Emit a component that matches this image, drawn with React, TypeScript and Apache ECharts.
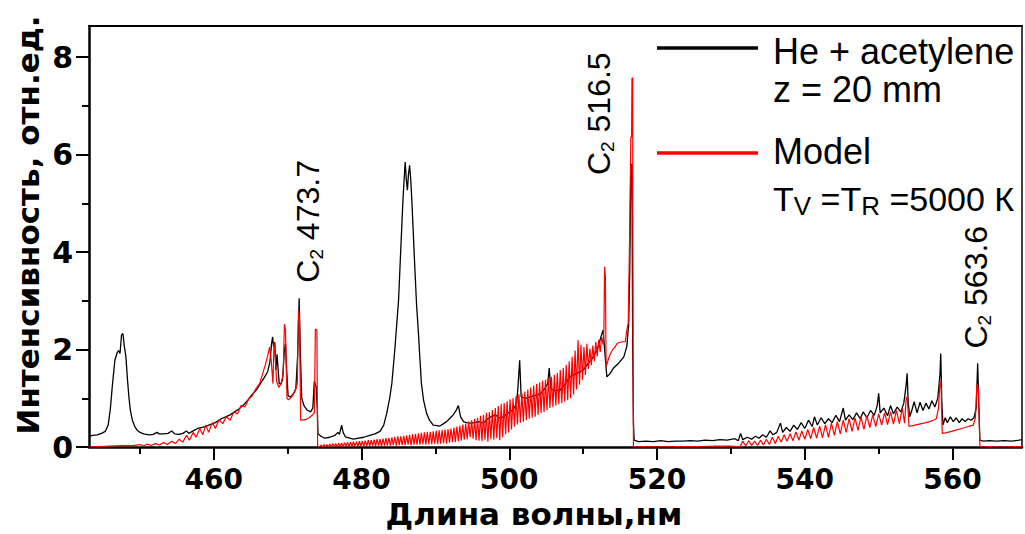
import React, { useEffect, useRef } from "react";
import * as echarts from "echarts";

// ---- axes ----
const X_MIN = 443.1;
const X_MAX = 569.4;
const X_MAJOR = [460, 480, 500, 520, 540, 560];
const X_MINOR = [450, 470, 490, 510, 530, 550];
const Y_MIN = 0;
const Y_MAX = 8.64;
const Y_MAJOR = [0, 2, 4, 6, 8];
const Y_MINOR = [1, 3, 5, 7];

const X_TITLE = "Длина волны,нм";
const Y_TITLE = "Интенсивность, отн.ед.";

// ---- measured spectrum: He + acetylene, z = 20 mm ----
const measured: [number, number][] = [
  [443.1, 0.22], [443.6, 0.24], [444.2, 0.25], [444.8, 0.28], [445.3, 0.32], [445.7, 0.45],
  [446.0, 0.8], [446.25, 1.24], [446.6, 1.78], [446.9, 1.93], [447.1, 1.98], [447.3, 1.92],
  [447.5, 2.3], [447.7, 2.33], [447.85, 2.1], [448.1, 1.85], [448.3, 1.4], [448.5, 1.03],
  [448.7, 0.75], [448.97, 0.55], [449.3, 0.42], [449.6, 0.35], [450.0, 0.3], [450.5, 0.27],
  [451.2, 0.25], [451.8, 0.26], [452.3, 0.3], [452.6, 0.27], [453.2, 0.27], [453.8, 0.28],
  [454.3, 0.33], [454.7, 0.27], [455.3, 0.26], [455.8, 0.28], [456.3, 0.33], [456.6, 0.28],
  [457.2, 0.33], [457.8, 0.38], [458.3, 0.4], [458.8, 0.42], [459.5, 0.46], [460.2, 0.5],
  [461.0, 0.58], [461.6, 0.62], [462.2, 0.66], [462.8, 0.72], [463.4, 0.78], [464.0, 0.86],
  [464.6, 0.96], [465.2, 1.08], [465.8, 1.18], [466.3, 1.3], [466.8, 1.42], [467.3, 1.55],
  [467.6, 1.75], [467.8, 2.1], [467.95, 2.26], [468.1, 2.05], [468.25, 2.15], [468.4, 1.58],
  [468.55, 1.9], [468.7, 1.6], [468.85, 1.3], [469.1, 1.3], [469.3, 1.38], [469.55, 2.0],
  [469.7, 2.12], [469.85, 1.6], [470.05, 1.05], [470.4, 1.03], [470.8, 1.1], [471.1, 1.2],
  [471.35, 1.9], [471.55, 3.05], [471.7, 2.0], [471.9, 1.0], [472.2, 0.85], [472.6, 0.76],
  [473.1, 0.72], [473.4, 0.8], [473.6, 1.35], [473.85, 1.23], [474.0, 0.8], [474.1, 0.27],
  [474.5, 0.22], [475.0, 0.18], [475.7, 0.2], [476.4, 0.24], [476.8, 0.3], [477.0, 0.26],
  [477.3, 0.45], [477.5, 0.3], [477.8, 0.21], [478.4, 0.18], [478.9, 0.16], [479.6, 0.18],
  [480.3, 0.2], [481.1, 0.24], [481.8, 0.27], [482.5, 0.32], [483.0, 0.45], [483.4, 0.69],
  [483.8, 1.0], [484.1, 1.31], [484.5, 2.0], [485.0, 3.0], [485.3, 4.04], [485.6, 5.07],
  [485.9, 5.85], [486.05, 5.5], [486.2, 5.27], [486.35, 5.6], [486.5, 5.78], [486.65, 5.5],
  [486.8, 5.07], [487.0, 4.4], [487.2, 3.7], [487.45, 2.9], [487.7, 2.33], [487.9, 1.8],
  [488.1, 1.3], [488.4, 0.95], [488.8, 0.69], [489.2, 0.55], [489.7, 0.45], [490.2, 0.44],
  [490.6, 0.43], [491.0, 0.47], [491.5, 0.52], [491.9, 0.58], [492.4, 0.66], [492.8, 0.75],
  [493.1, 0.85], [493.4, 0.62], [493.8, 0.52], [494.2, 0.5], [494.7, 0.49], [495.3, 0.5],
  [495.8, 0.52], [496.5, 0.49], [497.0, 0.57], [497.5, 0.62], [498.1, 0.66], [498.6, 0.6],
  [499.2, 0.62], [499.8, 0.7], [500.5, 0.76], [501.0, 0.9], [501.2, 1.3], [501.4, 1.78],
  [501.6, 1.03], [502.2, 1.0], [502.8, 1.03], [503.5, 1.06], [504.2, 1.09], [504.8, 1.2],
  [505.2, 1.3], [505.4, 1.62], [505.6, 1.2], [506.2, 1.15], [506.9, 1.17], [507.6, 1.3],
  [508.2, 1.44], [509.0, 1.5], [510.0, 1.58], [510.6, 1.7], [511.4, 1.85], [512.0, 2.05],
  [512.4, 2.26], [512.7, 2.4], [512.9, 2.0], [513.2, 1.44], [513.6, 1.5], [514.1, 1.62],
  [514.8, 1.72], [515.5, 1.85], [515.9, 2.06], [516.15, 2.5], [516.3, 3.6], [516.45, 5.8],
  [516.6, 5.8], [516.7, 2.0], [516.8, 0.5], [516.9, 0.14], [517.5, 0.11], [518.5, 0.12],
  [519.5, 0.11], [520.5, 0.13], [521.5, 0.11], [522.5, 0.12], [523.5, 0.12], [524.5, 0.13],
  [525.5, 0.12], [526.5, 0.14], [527.5, 0.13], [528.5, 0.15], [529.5, 0.14], [530.5, 0.17],
  [531.0, 0.13], [531.3, 0.28], [531.6, 0.15], [532.2, 0.2], [532.8, 0.16], [533.3, 0.22],
  [533.8, 0.18], [534.3, 0.25], [534.8, 0.2], [535.3, 0.33], [535.7, 0.25], [536.2, 0.3],
  [536.7, 0.49], [537.0, 0.3], [537.5, 0.4], [538.0, 0.32], [538.5, 0.45], [539.0, 0.36],
  [539.5, 0.5], [540.0, 0.38], [540.5, 0.55], [541.0, 0.42], [541.3, 0.62], [541.7, 0.45],
  [542.2, 0.6], [542.7, 0.48], [543.2, 0.58], [543.7, 0.5], [544.2, 0.65], [544.7, 0.52],
  [545.2, 0.8], [545.5, 0.55], [546.0, 0.66], [546.5, 0.56], [547.0, 0.7], [547.5, 0.58],
  [547.9, 0.72], [548.4, 0.6], [548.9, 0.75], [549.4, 0.65], [549.8, 0.85], [550.0, 1.1],
  [550.2, 0.7], [550.7, 0.8], [551.2, 0.64], [551.6, 0.85], [552.0, 0.68], [552.5, 0.82],
  [553.0, 0.72], [553.4, 0.9], [553.7, 1.25], [553.85, 1.51], [554.0, 0.9], [554.2, 0.62],
  [554.5, 0.76], [554.8, 0.93], [555.2, 0.7], [555.6, 0.92], [556.0, 0.75], [556.4, 0.9],
  [556.8, 0.78], [557.2, 0.95], [557.6, 0.82], [558.0, 1.0], [558.3, 1.5], [558.4, 1.92],
  [558.55, 0.9], [558.7, 0.45], [559.0, 0.6], [559.3, 0.5], [559.7, 0.62], [560.1, 0.52],
  [560.5, 0.6], [560.9, 0.5], [561.3, 0.58], [561.7, 0.52], [562.1, 0.58], [562.5, 0.55],
  [562.9, 0.6], [563.2, 0.8], [563.4, 1.72], [563.55, 0.9], [563.7, 0.14], [564.2, 0.12],
  [565.0, 0.13], [566.0, 0.12], [567.0, 0.13], [568.0, 0.12], [569.0, 0.14], [569.4, 0.15],
];

// ---- model spectrum: Tv = Tr = 5000 K ----
const model: [number, number][] = [
  [443.1, 0.0], [444.5, 0.01], [446.0, 0.02], [447.5, 0.03], [449.0, 0.03], [450.0, 0.05],
  [450.5, 0.02], [451.0, 0.06], [451.5, 0.03], [452.1, 0.07], [452.6, 0.04], [453.2, 0.09],
  [453.7, 0.05], [454.3, 0.12], [454.8, 0.07], [455.3, 0.16], [455.8, 0.1], [456.3, 0.24],
  [456.7, 0.14], [457.2, 0.3], [457.6, 0.2], [458.1, 0.38], [458.5, 0.25], [458.9, 0.45],
  [459.3, 0.3], [459.8, 0.5], [460.2, 0.38], [460.7, 0.56], [461.2, 0.48], [461.7, 0.62],
  [462.2, 0.55], [462.7, 0.72], [463.2, 0.68], [463.7, 0.85], [464.2, 0.82], [464.7, 0.98],
  [465.2, 1.05], [465.7, 1.2], [466.2, 1.3], [466.6, 1.5], [467.0, 1.7], [467.3, 1.88],
  [467.55, 2.05], [467.75, 1.8], [467.9, 1.5], [468.0, 1.3], [468.15, 2.15], [468.3, 1.9],
  [468.5, 1.35], [468.8, 1.22], [469.1, 1.3], [469.4, 1.5], [469.55, 2.52], [469.7, 2.4],
  [469.9, 1.0], [470.1, 0.97], [470.6, 1.04], [471.0, 1.15], [471.3, 1.3], [471.45, 2.8],
  [471.6, 2.6], [471.75, 0.55], [472.4, 0.56], [472.9, 0.6], [473.3, 0.65], [473.6, 0.7],
  [473.75, 2.42], [473.95, 2.4], [474.05, 0.0],
  [474.3, 0.0], [474.5, 0.04], [474.7, 0.0], [474.9, 0.05], [475.1, 0.0], [475.3, 0.05],
  [475.5, 0.0], [475.7, 0.06], [475.9, 0.0], [476.1, 0.07], [476.3, 0.01], [476.5, 0.07],
  [476.7, 0.0], [476.9, 0.08], [477.1, 0.01], [477.3, 0.08], [477.5, 0.01], [477.7, 0.09],
  [477.9, 0.01], [478.1, 0.1], [478.3, 0.01], [478.5, 0.1], [478.7, 0.01], [478.9, 0.11],
  [479.1, 0.02], [479.3, 0.11], [479.5, 0.01], [479.7, 0.12], [479.9, 0.02], [480.1, 0.12],
  [480.3, 0.02], [480.5, 0.13], [480.7, 0.02], [480.9, 0.14], [481.1, 0.02], [481.3, 0.14],
  [481.5, 0.03], [481.7, 0.15], [481.9, 0.02], [482.1, 0.16], [482.3, 0.03], [482.5, 0.16],
  [482.7, 0.02], [482.9, 0.17], [483.1, 0.03], [483.3, 0.18], [483.5, 0.03], [483.7, 0.19],
  [483.9, 0.03], [484.1, 0.2], [484.3, 0.04], [484.5, 0.21], [484.7, 0.03], [484.9, 0.22],
  [485.1, 0.04], [485.3, 0.22], [485.5, 0.04], [485.7, 0.23], [485.9, 0.04], [486.1, 0.24],
  [486.3, 0.05], [486.5, 0.25], [486.7, 0.04], [486.9, 0.26], [487.1, 0.05], [487.3, 0.27],
  [487.5, 0.05], [487.7, 0.28], [487.9, 0.05], [488.1, 0.29], [488.3, 0.06], [488.5, 0.3],
  [488.7, 0.05], [488.9, 0.31], [489.1, 0.06], [489.3, 0.31], [489.5, 0.06], [489.7, 0.32],
  [489.9, 0.07], [490.1, 0.33], [490.3, 0.06], [490.5, 0.34], [490.7, 0.07], [490.9, 0.35],
  [491.1, 0.08], [491.3, 0.36], [491.5, 0.07], [491.7, 0.37], [491.9, 0.09], [492.1, 0.38],
  [492.3, 0.1], [492.5, 0.4], [492.7, 0.1], [492.9, 0.42], [493.1, 0.12], [493.3, 0.44],
  [493.5, 0.13], [493.7, 0.46], [493.9, 0.15], [494.1, 0.48], [494.3, 0.16], [494.5, 0.52],
  [494.7, 0.2], [494.9, 0.55], [495.1, 0.17], [495.3, 0.58], [495.5, 0.14], [495.7, 0.6],
  [495.9, 0.13], [496.1, 0.64], [496.3, 0.12], [496.5, 0.66], [496.7, 0.15], [496.9, 0.7],
  [497.1, 0.11], [497.3, 0.72], [497.5, 0.16], [497.7, 0.76], [497.9, 0.15], [498.1, 0.8],
  [498.3, 0.18], [498.5, 0.84], [498.7, 0.14], [498.9, 0.88], [499.1, 0.2], [499.3, 0.9],
  [499.5, 0.26], [499.7, 0.94], [499.9, 0.3], [500.1, 0.98], [500.3, 0.36], [500.5, 1.0],
  [500.7, 0.42], [500.9, 1.04], [501.1, 0.46], [501.3, 1.08], [501.5, 0.5], [501.7, 1.1],
  [501.9, 0.52], [502.1, 1.14], [502.3, 0.55], [502.5, 1.18], [502.7, 0.58], [502.9, 1.22],
  [503.1, 0.6], [503.3, 1.26], [503.5, 0.62], [503.7, 1.3], [503.9, 0.66], [504.1, 1.33],
  [504.3, 0.7], [504.5, 1.36], [504.7, 0.72], [504.9, 1.38], [505.1, 0.76], [505.3, 1.42],
  [505.5, 0.8], [505.7, 1.44], [505.9, 0.82], [506.1, 1.48], [506.3, 0.85], [506.5, 1.52],
  [506.7, 0.88], [506.9, 1.58], [507.1, 0.9], [507.3, 1.62], [507.5, 0.93], [507.7, 1.68],
  [507.9, 0.96], [508.1, 1.76], [508.3, 1.0], [508.5, 1.85], [508.7, 1.08], [508.9, 1.98],
  [509.1, 1.18], [509.3, 2.19], [509.5, 1.28], [509.7, 2.1], [509.9, 1.38], [510.1, 2.05],
  [510.3, 1.48], [510.5, 2.12], [510.7, 1.6], [510.9, 2.02], [511.1, 1.68], [511.3, 2.08],
  [511.5, 1.76], [511.7, 2.16], [511.9, 1.86], [512.1, 2.2], [512.3, 1.95], [512.5, 2.26],
  [512.7, 2.1], [512.8, 2.4], [512.9, 3.7], [513.0, 3.5],
  [513.1, 1.65], [513.4, 1.8], [513.7, 1.92], [514.0, 2.0], [514.3, 2.05], [514.6, 2.13],
  [515.0, 2.15], [515.4, 2.16], [515.7, 2.16], [515.9, 2.4], [516.1, 2.54], [516.3, 4.5],
  [516.45, 6.36], [516.55, 6.36], [516.6, 7.57], [516.7, 7.57], [516.75, 2.0], [516.8, 0.0],
  [518.0, 0.01], [520.0, 0.0], [522.0, 0.01], [524.0, 0.01], [526.0, 0.01], [528.0, 0.02],
  [530.0, 0.02], [531.2, 0.0], [531.6, 0.12], [532.0, 0.02], [532.4, 0.13], [532.8, 0.03],
  [533.2, 0.12], [533.6, 0.03], [534.0, 0.14], [534.4, 0.04], [534.8, 0.16], [535.2, 0.05],
  [535.6, 0.2], [536.0, 0.07], [536.4, 0.22], [536.8, 0.1], [537.2, 0.25], [537.6, 0.12],
  [538.0, 0.27], [538.4, 0.13], [538.8, 0.31], [539.2, 0.14], [539.6, 0.33], [540.0, 0.16],
  [540.4, 0.36], [540.8, 0.17], [541.2, 0.4], [541.6, 0.18], [542.0, 0.43], [542.4, 0.19],
  [542.8, 0.46], [543.2, 0.2], [543.6, 0.49], [544.0, 0.24], [544.4, 0.52], [544.8, 0.27],
  [545.2, 0.55], [545.6, 0.3], [546.0, 0.58], [546.4, 0.32], [546.8, 0.6], [547.2, 0.34],
  [547.6, 0.62], [548.0, 0.36], [548.4, 0.64], [548.8, 0.4], [549.2, 0.66], [549.6, 0.42],
  [550.0, 0.68], [550.4, 0.45], [550.8, 0.7], [551.2, 0.46], [551.6, 0.72], [552.0, 0.47],
  [552.4, 0.75], [552.8, 0.48], [553.2, 0.8], [553.5, 0.49], [553.75, 1.03], [553.9, 0.95],
  [554.1, 0.42], [554.6, 0.44], [555.2, 0.46], [555.8, 0.48], [556.4, 0.5], [556.9, 0.52],
  [557.4, 0.55], [557.8, 0.58], [558.1, 0.8], [558.3, 1.37], [558.45, 1.2], [558.6, 0.28],
  [559.0, 0.29], [559.6, 0.31], [560.3, 0.34], [561.0, 0.37], [561.7, 0.4], [562.3, 0.43],
  [562.8, 0.45], [563.1, 0.6], [563.3, 1.3], [563.5, 1.2], [563.7, 0.0], [565.0, 0.01],
  [567.0, 0.0], [569.4, 0.01],
];

// ---- annotations (label centre in data coords) ----
const ANNOT_TEXT = ["473.7", "516.5", "563.6"];
const ANNOT_POS: [number, number][] = [
  [472.75, 4.63],
  [512.16, 6.84],
  [563.2, 3.28],
];

const BLACK = "#000000";
const RED = "#ff0000";
const BOLD_FONT = "'DejaVu Sans', Verdana, sans-serif";
const TEXT_FONT = "'Liberation Sans', Arial, sans-serif";

export default function App() {
  const ref = useRef<HTMLDivElement>(null);

  useEffect(() => {
    if (!ref.current) return;
    const chart = echarts.init(ref.current, undefined, { renderer: "svg" });

    const axisLineStyle = { color: BLACK, width: 2.5 };
    const tickStyle = { color: BLACK, width: 2 };

    const option: any = {
      animation: false,
      backgroundColor: "#ffffff",
      grid: { left: 89, right: 3, top: 26, bottom: 87, containLabel: false },
      xAxis: [
        {
          type: "value", min: X_MIN, max: X_MAX, position: "bottom",
          axisLine: { show: true, onZero: false, lineStyle: axisLineStyle },
          axisTick: { show: true, inside: false, length: 13, lineStyle: tickStyle, customValues: X_MAJOR },
          axisLabel: {
            show: true, customValues: X_MAJOR, margin: 18, color: BLACK,
            fontSize: 28, fontWeight: "bold", fontFamily: BOLD_FONT,
          },
          splitLine: { show: false },
        },
        {
          type: "value", min: X_MIN, max: X_MAX, position: "bottom",
          axisLine: { show: false, onZero: false },
          axisTick: { show: true, inside: false, length: 7, lineStyle: tickStyle, customValues: X_MINOR },
          axisLabel: { show: false },
          splitLine: { show: false },
        },
        {
          type: "value", min: X_MIN, max: X_MAX, position: "top",
          axisLine: { show: true, onZero: false, lineStyle: { color: BLACK, width: 2 } },
          axisTick: { show: false },
          axisLabel: { show: false },
          splitLine: { show: false },
        },
      ],
      yAxis: [
        {
          type: "value", min: Y_MIN, max: Y_MAX, position: "left",
          axisLine: { show: true, onZero: false, lineStyle: axisLineStyle },
          axisTick: { show: true, inside: false, length: 13, lineStyle: tickStyle, customValues: Y_MAJOR },
          axisLabel: {
            show: true, customValues: Y_MAJOR, margin: 16, color: BLACK,
            fontSize: 30, fontWeight: "bold", fontFamily: BOLD_FONT,
          },
          splitLine: { show: false },
        },
        {
          type: "value", min: Y_MIN, max: Y_MAX, position: "left",
          axisLine: { show: false, onZero: false },
          axisTick: { show: true, inside: false, length: 7, lineStyle: tickStyle, customValues: Y_MINOR },
          axisLabel: { show: false },
          splitLine: { show: false },
        },
        {
          type: "value", min: Y_MIN, max: Y_MAX, position: "right",
          axisLine: { show: true, onZero: false, lineStyle: { color: BLACK, width: 1.5 } },
          axisTick: { show: false },
          axisLabel: { show: false },
          splitLine: { show: false },
        },
      ],
      series: [
        {
          name: "He + acetylene", type: "line", data: measured,
          xAxisIndex: 0, yAxisIndex: 0, symbol: "none", showSymbol: false,
          lineStyle: { color: BLACK, width: 1.3 }, z: 2,
        },
        {
          name: "Model", type: "line", data: model,
          xAxisIndex: 0, yAxisIndex: 0, symbol: "none", showSymbol: false,
          lineStyle: { color: RED, width: 1.2 }, z: 3,
        },
      ],
    };
    chart.setOption(option);

    const annotations = ANNOT_TEXT.map((t, i) => {
      const p = chart.convertToPixel({ seriesIndex: 0 }, ANNOT_POS[i]) as number[];
      return {
        type: "text",
        x: p[0], y: p[1], rotation: Math.PI / 2, z: 10,
        style: {
          text: `{c|C}{s|2}{c| ${t}}`,
          align: "center", verticalAlign: "middle", fill: BLACK,
          rich: {
            c: { fontSize: 32, fontFamily: TEXT_FONT, lineHeight: 36, fill: BLACK },
            s: { fontSize: 19, fontFamily: TEXT_FONT, lineHeight: 16, verticalAlign: "bottom", fill: BLACK },
          },
        },
      };
    });

    const legendX0 = 657, legendX1 = 758, legendTextX = 773;
    const graphic: any[] = [
      ...annotations,
      {
        type: "text", x: 534, y: 514, z: 10,
        style: { text: X_TITLE, fontSize: 31, fontWeight: "bold", fontFamily: BOLD_FONT, fill: BLACK, align: "center", verticalAlign: "middle" },
      },
      {
        type: "text", x: 28, y: 225, rotation: Math.PI / 2, z: 10,
        style: { text: Y_TITLE, fontSize: 31, fontWeight: "bold", fontFamily: BOLD_FONT, fill: BLACK, align: "center", verticalAlign: "middle" },
      },
      { type: "line", z: 10, shape: { x1: legendX0, y1: 48, x2: legendX1, y2: 48 }, style: { stroke: BLACK, lineWidth: 3.5 } },
      { type: "line", z: 10, shape: { x1: legendX0, y1: 153, x2: legendX1, y2: 153 }, style: { stroke: RED, lineWidth: 3.5 } },
      {
        type: "text", x: legendTextX, y: 51, z: 10,
        style: { text: "He + acetylene", fontSize: 36, fontFamily: TEXT_FONT, fill: BLACK, align: "left", verticalAlign: "middle" },
      },
      {
        type: "text", x: legendTextX, y: 89, z: 10,
        style: { text: "z = 20 mm", fontSize: 36, fontFamily: TEXT_FONT, fill: BLACK, align: "left", verticalAlign: "middle" },
      },
      {
        type: "text", x: legendTextX, y: 151, z: 10,
        style: { text: "Model", fontSize: 36, fontFamily: TEXT_FONT, fill: BLACK, align: "left", verticalAlign: "middle" },
      },
      {
        type: "text", x: legendTextX, y: 199, z: 10,
        style: {
          text: "{a|T}{b|V}{a| =T}{b|R}{a| =5000 К}",
          align: "left", verticalAlign: "middle", fill: BLACK,
          rich: {
            a: { fontSize: 34, fontFamily: TEXT_FONT, lineHeight: 40, fill: BLACK },
            b: { fontSize: 26, fontFamily: TEXT_FONT, lineHeight: 20, verticalAlign: "bottom", fill: BLACK },
          },
        },
      },
    ];
    chart.setOption({ graphic });

    return () => chart.dispose();
  }, []);

  return (
    <div
      ref={ref}
      style={{ position: "fixed", left: 0, top: 0, width: 1025, height: 534, background: "#fff" }}
    />
  );
}
